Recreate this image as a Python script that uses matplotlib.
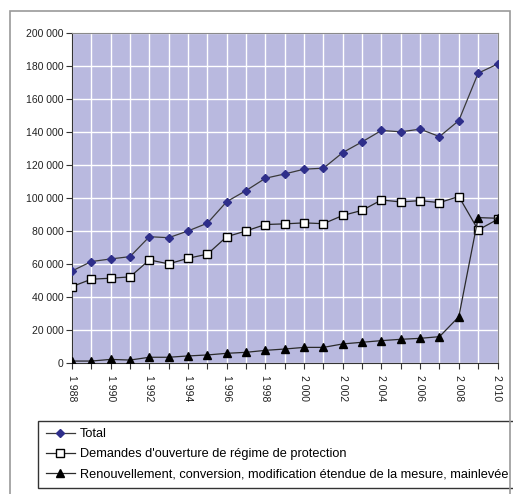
import matplotlib
matplotlib.use('Agg')
import matplotlib.pyplot as plt
from matplotlib.patches import Rectangle

# data
years = list(range(1988, 2011))
total = [55700, 61400, 63000, 64400, 76500, 75900, 80000, 84700, 97800, 104500,
         112000, 114600, 117500, 118100, 127600, 134100, 141000, 140200, 141800,
         137300, 147000, 175800, 181300]
demandes = [46200, 50700, 51300, 52100, 62400, 60000, 63400, 65900, 76500, 80000,
            83900, 84300, 84900, 84400, 89400, 92500, 98800, 97600, 98400, 97200,
            100900, 80600, 87000]
renouv = [1000, 1000, 2000, 1600, 3300, 3300, 4100, 4700, 5700, 6300, 7500,
          8300, 9300, 9300, 11400, 12400, 13400, 14200, 14800, 15800, 27900,
          88100, 87700]
tick_labels = ['1 988', '1 990', '1 992', '1 994', '1 996', '1 998', '2 000',
               '2 002', '2 004', '2 006', '2 008', '2 010']
y_ticks = list(range(0, 200001, 20000))
y_labels = ['0', '20 000', '40 000', '60 000', '80 000', '100 000', '120 000',
            '140 000', '160 000', '180 000', '200 000']
names = ['Total', "Demandes d'ouverture de régime de protection",
         'Renouvellement, conversion, modification étendue de la mesure, mainlevée']

plt.rcParams['font.family'] = ['Liberation Sans', 'DejaVu Sans']

W, H = 513, 494
fig = plt.figure(figsize=(W / 100, H / 100), dpi=100)
fig.patch.set_facecolor('white')

# outer chart frame
fig.patches.append(Rectangle((10 / W, -0.01), 500 / W, 1 - 11 / H + 0.01,
                             transform=fig.transFigure, fill=False,
                             edgecolor='#9a9a9a', linewidth=1.2))

ax = fig.add_axes([72 / W, 1 - 362.7 / H, (497.5 - 72) / W, (362.7 - 33.3) / H])
ax.set_facecolor('#b9b9df')

ax.plot(years, total, color='#3a3a3a', linewidth=0.9, marker='D', markersize=4,
        markerfacecolor='#2e2e8a', markeredgecolor='#2e2e8a', label=names[0], zorder=3)
ax.plot(years, demandes, color='#2a2a2a', linewidth=0.9, marker='s', markersize=5.5,
        markerfacecolor='white', markeredgecolor='black', markeredgewidth=1.0,
        label=names[1], zorder=3)
ax.plot(years, renouv, color='#2a2a2a', linewidth=0.9, marker='^', markersize=6,
        markerfacecolor='black', markeredgecolor='black', label=names[2], zorder=4)

ax.set_xlim(1988, 2010)
ax.set_ylim(0, 200000)
ax.set_yticks(y_ticks)
ax.set_yticklabels(y_labels, fontsize=7.5, color='#222222')

# every year gets a tick and a gridline, every other year a label
xlabels = []
for i in range(len(years)):
    xlabels.append(tick_labels[i // 2] if i % 2 == 0 else '')
ax.set_xticks(years)
ax.set_xticklabels(xlabels, rotation=270, fontsize=7.5, color='#222222')
ax.tick_params(axis='x', length=4, color='#333333', pad=5)
ax.tick_params(axis='y', length=4, color='#333333', pad=2)

ax.grid(True, color='white', linewidth=1.0)
ax.set_axisbelow(True)
for s in ['top', 'right']:
    ax.spines[s].set_color('#8a8a8a')
for s in ['left', 'bottom']:
    ax.spines[s].set_color('#333333')

leg = ax.legend(loc='upper left', bbox_to_anchor=(38 / W, 1 - 420.7 / H),
                bbox_transform=fig.transFigure, fontsize=9.2, frameon=True,
                fancybox=False, handlelength=2.3, handletextpad=0.4,
                labelspacing=0.62, borderpad=0.6, borderaxespad=0)
leg.get_frame().set_edgecolor('black')
leg.get_frame().set_linewidth(1.0)

fig.savefig('out.png', dpi=100)
